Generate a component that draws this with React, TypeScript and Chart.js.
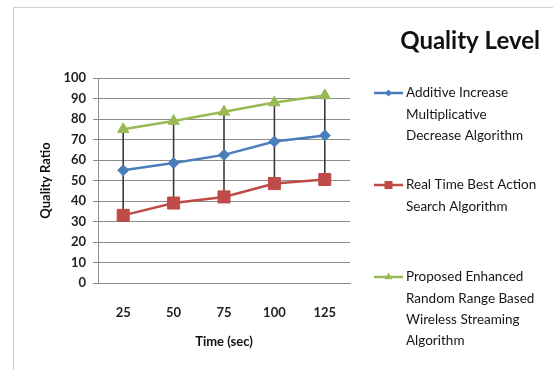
import React, { useEffect, useRef } from 'react';
import { Chart, registerables } from 'chart.js';

Chart.register(...registerables);

// Time axis (seconds)
const timeLabels = ['25', '50', '75', '100', '125'];

// Quality ratio per algorithm
const aimdValues = [55, 58.5, 62.5, 69, 72];
const rtbasValues = [33, 39, 42, 48.5, 50.5];
const proposedValues = [75, 79, 83.5, 88, 91.5];

const seriesLabels = [
  ['Additive Increase', 'Multiplicative', 'Decrease Algorithm'],
  ['Real Time Best Action', 'Search Algorithm'],
  ['Proposed Enhanced', 'Random Range Based', 'Wireless Streaming', 'Algorithm'],
];

const chartTitle = 'Quality Level';
const yTitle = 'Quality Ratio';
const xTitle = 'Time (sec)';

const BLUE = '#4a7ebb';
const RED = '#be4b48';
const GREEN = '#98b954';
const FONT = 'Lato, "Noto Sans", sans-serif';

// Vertical high-low connectors between the top and bottom series at each time
const highLowPlugin = {
  id: 'highLow',
  beforeDatasetsDraw(chart: any) {
    const { ctx, scales } = chart;
    const sets = chart.data.datasets;
    const n = chart.data.labels.length;
    ctx.save();
    ctx.strokeStyle = '#3a3a3a';
    ctx.lineWidth = 1.6;
    for (let i = 0; i < n; i++) {
      const vals = sets.map((d: any) => d.data[i] as number);
      const hi = Math.max(...vals);
      const lo = Math.min(...vals);
      const x = scales.x.getPixelForValue(i);
      ctx.beginPath();
      ctx.moveTo(x, scales.y.getPixelForValue(hi));
      ctx.lineTo(x, scales.y.getPixelForValue(lo));
      ctx.stroke();
    }
    ctx.restore();
  },
};

function drawMarker(ctx: CanvasRenderingContext2D, style: string, x: number, y: number, color: string) {
  ctx.fillStyle = color;
  ctx.beginPath();
  if (style === 'rectRot') {
    const r = 3.5;
    ctx.moveTo(x, y - r);
    ctx.lineTo(x + r, y);
    ctx.lineTo(x, y + r);
    ctx.lineTo(x - r, y);
  } else if (style === 'rect') {
    ctx.rect(x - 4, y - 4, 8, 8);
  } else {
    const r = 4.5;
    ctx.moveTo(x, y - r);
    ctx.lineTo(x + r * 0.87, y + r * 0.5);
    ctx.lineTo(x - r * 0.87, y + r * 0.5);
  }
  ctx.closePath();
  ctx.fill();
}

// Title and multi-line legend on the right side
const sidePanelPlugin = {
  id: 'sidePanel',
  afterDraw(chart: any) {
    const { ctx } = chart;
    ctx.save();
    ctx.fillStyle = '#111';
    ctx.font = `bold 24px ${FONT}`;
    ctx.textAlign = 'right';
    ctx.textBaseline = 'alphabetic';
    ctx.fillText(chartTitle, 540, 49);

    const firstLineY = [93, 185, 277];
    const lineStep = 21.3;
    ctx.font = `13.5px ${FONT}`;
    ctx.textAlign = 'left';
    ctx.textBaseline = 'middle';
    chart.data.datasets.forEach((ds: any, i: number) => {
      const y = firstLineY[i];
      ctx.strokeStyle = ds.borderColor;
      ctx.lineWidth = 2.5;
      ctx.beginPath();
      ctx.moveTo(374, y);
      ctx.lineTo(403, y);
      ctx.stroke();
      drawMarker(ctx, ds.pointStyle, 388.5, y, ds.borderColor);
      ctx.fillStyle = '#161616';
      seriesLabels[i].forEach((line, j) => {
        ctx.fillText(line, 406, y + j * lineStep);
      });
    });
    ctx.restore();
  },
};

export default function App() {
  const canvasRef = useRef<HTMLCanvasElement>(null);

  useEffect(() => {
    if (!canvasRef.current) return;
    Chart.defaults.font.family = FONT;
    const chart = new Chart(canvasRef.current, {
      type: 'line',
      data: {
        labels: timeLabels,
        datasets: [
          {
            label: seriesLabels[0].join(' '),
            data: aimdValues,
            borderColor: BLUE,
            backgroundColor: BLUE,
            borderWidth: 2.5,
            pointStyle: 'rectRot',
            pointRadius: 5.5,
            pointBorderWidth: 1,
          },
          {
            label: seriesLabels[1].join(' '),
            data: rtbasValues,
            borderColor: RED,
            backgroundColor: RED,
            borderWidth: 2.5,
            pointStyle: 'rect',
            pointRadius: 8.5,
            pointBorderWidth: 1,
          },
          {
            label: seriesLabels[2].join(' '),
            data: proposedValues,
            borderColor: GREEN,
            backgroundColor: GREEN,
            borderWidth: 2.5,
            pointStyle: 'triangle',
            pointRadius: 6.5,
            pointBorderWidth: 1,
          },
        ],
      },
      options: {
        responsive: false,
        animation: false,
        devicePixelRatio: 1,
        layout: { padding: { left: 30, right: 203, top: 78, bottom: 8 } },
        plugins: {
          legend: { display: false },
          title: { display: false },
          tooltip: { enabled: false },
        },
        scales: {
          x: {
            type: 'category',
            offset: true,
            grid: { display: false, drawTicks: false },
            border: { display: true, color: '#8c8c8c', width: 1 },
            ticks: { color: '#222', font: { size: 13, weight: 'bold' }, padding: 22 },
            title: {
              display: true,
              text: xTitle,
              color: '#111',
              font: { size: 13, weight: 'bold' },
              padding: { top: 0, bottom: 12 },
            },
            afterFit: (scale: any) => {
              scale.height = 79;
            },
          },
          y: {
            min: 0,
            max: 100,
            ticks: { stepSize: 10, color: '#222', font: { size: 13, weight: 'bold' }, padding: 7 },
            grid: { color: '#8c8c8c', lineWidth: 1, tickLength: 5, drawTicks: true },
            border: { display: true, color: '#8c8c8c', width: 1 },
            title: {
              display: true,
              text: yTitle,
              color: '#111',
              font: { size: 13, weight: 'bold' },
              padding: { top: 8, bottom: 0 },
            },
            afterFit: (scale: any) => {
              scale.width = 68;
            },
          },
        },
      },
      plugins: [highLowPlugin, sidePanelPlugin],
    } as any);
    return () => chart.destroy();
  }, []);

  return (
    <div style={{ position: 'fixed', left: 0, top: 0, width: 553, height: 370, background: '#fff' }}>
      <div
        style={{
          position: 'absolute',
          left: 13,
          top: 7,
          right: 0,
          bottom: 0,
          borderTop: '1px solid #cfcfcf',
          borderLeft: '1px solid #cfcfcf',
        }}
      />
      <canvas ref={canvasRef} width={553} height={370} style={{ position: 'absolute', left: 0, top: 0 }} />
    </div>
  );
}
